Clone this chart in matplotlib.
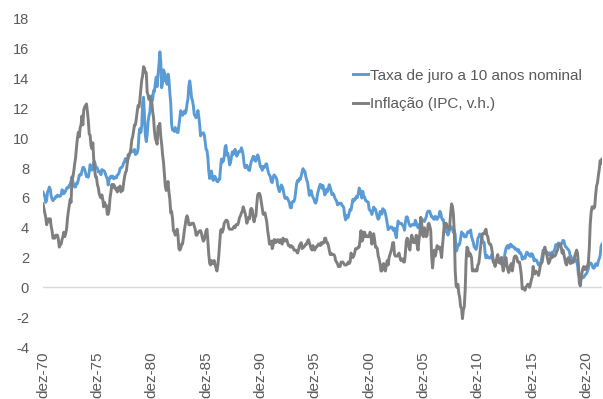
import numpy as np
import matplotlib.pyplot as plt

plt.rcParams['font.family'] = ['Liberation Sans', 'DejaVu Sans']

# monthly series, dez-1970 .. mai-2022
juro_10a = [
    6.39,
    6.24, 6.11, 5.70, 5.83, 6.39, 6.52, 6.73, 6.58, 6.14, 5.93, 5.81, 5.93,  # 1971
    5.95, 6.08, 6.07, 6.19, 6.13, 6.11, 6.11, 6.21, 6.55, 6.48, 6.28, 6.36,  # 1972
    6.46, 6.64, 6.71, 6.67, 6.85, 6.90, 7.13, 7.40, 7.09, 6.79, 6.73, 6.74,  # 1973
    6.99, 6.96, 7.21, 7.51, 7.58, 7.54, 7.81, 8.04, 8.04, 7.90, 7.68, 7.43,  # 1974
    7.50, 7.39, 7.73, 8.23, 8.06, 7.86, 8.06, 8.40, 8.43, 8.14, 8.05, 8.00,  # 1975
    7.74, 7.79, 7.73, 7.56, 7.90, 7.86, 7.83, 7.77, 7.59, 7.41, 7.29, 6.87,  # 1976
    7.21, 7.39, 7.46, 7.37, 7.46, 7.28, 7.33, 7.40, 7.34, 7.52, 7.58, 7.69,  # 1977
    7.96, 8.03, 8.04, 8.15, 8.35, 8.46, 8.64, 8.41, 8.42, 8.64, 8.81, 9.01,  # 1978
    9.10, 9.10, 9.12, 9.18, 9.25, 8.91, 8.95, 9.03, 9.33, 10.30, 10.65, 10.39,  # 1979
    10.80, 12.41, 12.75, 11.47, 10.18, 9.78, 10.25, 11.10, 11.51, 11.75, 12.68, 12.84,  # 1980
    12.57, 13.19, 13.12, 13.68, 14.10, 13.47, 14.28, 14.94, 15.80, 15.15, 13.39, 13.72,  # 1981
    14.59, 14.43, 13.86, 13.87, 13.62, 14.30, 13.95, 13.06, 12.34, 10.91, 10.55, 10.54,  # 1982
    10.46, 10.72, 10.51, 10.40, 10.38, 10.85, 11.38, 11.85, 11.65, 11.54, 11.69, 11.83,  # 1983
    11.67, 11.84, 12.32, 12.63, 13.50, 13.85, 13.36, 12.72, 12.52, 12.16, 11.57, 11.50,  # 1984
    11.38, 11.51, 11.86, 11.43, 10.85, 10.16, 10.31, 10.33, 10.37, 10.24, 9.78, 9.26,  # 1985
    9.19, 8.70, 7.78, 7.30, 7.71, 7.80, 7.30, 7.17, 7.45, 7.43, 7.25, 7.11,  # 1986
    7.08, 7.25, 7.25, 8.02, 8.61, 8.40, 8.45, 8.76, 9.42, 9.52, 8.86, 8.99,  # 1987
    8.67, 8.21, 8.37, 8.72, 9.09, 8.92, 9.06, 9.26, 8.98, 8.80, 8.96, 9.11,  # 1988
    9.09, 9.17, 9.36, 9.18, 8.86, 8.28, 8.02, 8.11, 8.19, 8.01, 7.87, 7.84,  # 1989
    8.21, 8.47, 8.59, 8.79, 8.76, 8.48, 8.47, 8.75, 8.89, 8.72, 8.39, 8.08,  # 1990
    8.09, 7.85, 8.11, 8.04, 8.07, 8.28, 8.27, 7.90, 7.65, 7.53, 7.42, 7.09,  # 1991
    7.03, 7.34, 7.54, 7.48, 7.39, 7.26, 6.84, 6.59, 6.42, 6.59, 6.87, 6.77,  # 1992
    6.60, 6.26, 5.98, 5.97, 6.04, 5.96, 5.81, 5.68, 5.36, 5.33, 5.72, 5.77,  # 1993
    5.75, 5.97, 6.48, 6.97, 7.18, 7.10, 7.30, 7.24, 7.46, 7.74, 7.96, 7.81,  # 1994
    7.78, 7.47, 7.20, 7.06, 6.63, 6.17, 6.28, 6.49, 6.20, 6.04, 5.93, 5.71,  # 1995
    5.65, 5.81, 6.27, 6.51, 6.74, 6.91, 6.87, 6.64, 6.83, 6.53, 6.20, 6.30,  # 1996
    6.58, 6.42, 6.69, 6.89, 6.71, 6.49, 6.22, 6.30, 6.21, 6.03, 5.88, 5.81,  # 1997
    5.54, 5.57, 5.65, 5.64, 5.65, 5.50, 5.46, 5.34, 4.81, 4.53, 4.83, 4.65,  # 1998
    4.72, 5.00, 5.23, 5.18, 5.54, 5.90, 5.79, 5.94, 5.92, 6.11, 6.03, 6.28,  # 1999
    6.66, 6.52, 6.26, 5.99, 6.44, 6.10, 6.05, 5.83, 5.80, 5.74, 5.72, 5.24,  # 2000
    5.16, 5.10, 4.89, 5.14, 5.39, 5.28, 5.24, 4.97, 4.73, 4.57, 4.65, 5.09,  # 2001
    5.04, 4.91, 5.28, 5.21, 5.16, 4.93, 4.65, 4.26, 3.87, 3.94, 4.05, 4.03,  # 2002
    4.05, 3.90, 3.81, 3.96, 3.57, 3.33, 3.98, 4.45, 4.27, 4.29, 4.30, 4.27,  # 2003
    4.15, 4.08, 3.83, 4.35, 4.72, 4.73, 4.50, 4.28, 4.13, 4.10, 4.19, 4.23,  # 2004
    4.22, 4.17, 4.50, 4.34, 4.14, 4.00, 4.18, 4.26, 4.20, 4.46, 4.54, 4.47,  # 2005
    4.42, 4.57, 4.72, 4.99, 5.11, 5.11, 5.09, 4.88, 4.72, 4.73, 4.60, 4.56,  # 2006
    4.76, 4.72, 4.56, 4.69, 4.75, 5.10, 5.00, 4.67, 4.52, 4.53, 4.15, 4.10,  # 2007
    3.74, 3.74, 3.51, 3.68, 3.88, 4.10, 4.01, 3.89, 3.69, 3.81, 3.53, 2.42,  # 2008
    2.52, 2.87, 2.82, 2.93, 3.29, 3.72, 3.56, 3.59, 3.40, 3.39, 3.40, 3.59,  # 2009
    3.73, 3.69, 3.73, 3.85, 3.42, 3.20, 3.01, 2.70, 2.65, 2.54, 2.76, 3.29,  # 2010
    3.39, 3.58, 3.41, 3.46, 3.17, 3.00, 3.00, 2.30, 1.98, 2.15, 2.01, 1.98,  # 2011
    1.97, 1.97, 2.17, 2.05, 1.80, 1.62, 1.53, 1.68, 1.72, 1.75, 1.65, 1.72,  # 2012
    1.91, 1.98, 1.96, 1.76, 1.93, 2.30, 2.58, 2.74, 2.81, 2.62, 2.72, 2.90,  # 2013
    2.86, 2.71, 2.72, 2.71, 2.56, 2.60, 2.54, 2.42, 2.53, 2.30, 2.33, 2.21,  # 2014
    1.88, 1.98, 2.04, 1.94, 2.20, 2.36, 2.32, 2.17, 2.17, 2.07, 2.26, 2.24,  # 2015
    2.09, 1.78, 1.89, 1.81, 1.81, 1.64, 1.50, 1.56, 1.63, 1.76, 2.14, 2.49,  # 2016
    2.43, 2.42, 2.48, 2.30, 2.30, 2.19, 2.32, 2.21, 2.20, 2.36, 2.35, 2.40,  # 2017
    2.58, 2.86, 2.84, 2.87, 2.98, 2.91, 2.89, 2.89, 3.00, 3.15, 3.12, 2.83,  # 2018
    2.71, 2.68, 2.57, 2.53, 2.40, 2.07, 2.06, 1.63, 1.70, 1.71, 1.81, 1.86,  # 2019
    1.76, 1.50, 0.87, 0.66, 0.67, 0.73, 0.62, 0.65, 0.68, 0.79, 0.87, 0.93,  # 2020
    1.08, 1.26, 1.61, 1.64, 1.62, 1.52, 1.32, 1.28, 1.37, 1.58, 1.56, 1.47,  # 2021
    1.76, 1.93, 2.13, 2.75, 2.90,  # 2022
]

inflacao = [
    5.6,
    5.3, 5.0, 4.7, 4.2, 4.4, 4.6, 4.4, 4.6, 4.1, 3.8, 3.3, 3.3,  # 1971
    3.3, 3.5, 3.5, 3.5, 3.2, 2.7, 2.9, 2.9, 3.2, 3.4, 3.7, 3.4,  # 1972
    3.6, 3.9, 4.6, 5.1, 5.5, 5.9, 5.7, 7.4, 7.4, 7.8, 8.3, 8.7,  # 1973
    9.4, 10.0, 10.4, 10.1, 10.7, 10.9, 11.5, 10.9, 11.9, 12.1, 12.2, 12.3,  # 1974
    11.8, 11.2, 10.3, 10.2, 9.5, 9.3, 9.7, 8.6, 7.9, 7.4, 7.4, 6.9,  # 1975
    6.7, 6.3, 6.1, 6.0, 6.2, 5.9, 5.4, 5.7, 5.5, 5.5, 4.9, 4.9,  # 1976
    5.2, 6.0, 6.4, 6.9, 6.7, 6.9, 6.8, 6.6, 6.6, 6.4, 6.7, 6.7,  # 1977
    6.8, 6.4, 6.6, 6.5, 7.0, 7.4, 7.7, 7.8, 8.3, 8.9, 8.9, 9.0,  # 1978
    9.3, 9.9, 10.1, 10.5, 10.9, 10.9, 11.3, 11.8, 12.2, 12.1, 12.6, 13.3,  # 1979
    13.9, 14.2, 14.8, 14.7, 14.4, 14.4, 13.1, 12.9, 12.6, 12.8, 12.6, 12.5,  # 1980
    11.8, 11.4, 10.5, 10.0, 9.8, 9.6, 10.8, 10.8, 11.0, 10.1, 9.6, 8.9,  # 1981
    8.4, 7.6, 6.8, 6.5, 6.7, 7.1, 6.4, 5.9, 5.0, 5.1, 4.6, 3.8,  # 1982
    3.7, 3.5, 3.6, 3.9, 3.5, 2.6, 2.5, 2.6, 2.9, 2.9, 3.3, 3.8,  # 1983
    4.2, 4.6, 4.8, 4.6, 4.2, 4.2, 4.2, 4.3, 4.3, 4.3, 4.1, 3.9,  # 1984
    3.5, 3.5, 3.7, 3.7, 3.8, 3.8, 3.6, 3.3, 3.1, 3.2, 3.5, 3.8,  # 1985
    3.9, 3.1, 2.2, 1.6, 1.5, 1.8, 1.6, 1.6, 1.8, 1.5, 1.3, 1.1,  # 1986
    1.5, 2.1, 3.0, 3.8, 3.9, 3.7, 3.9, 4.3, 4.4, 4.5, 4.5, 4.4,  # 1987
    4.0, 3.9, 3.9, 3.9, 3.9, 4.0, 4.1, 4.0, 4.2, 4.2, 4.2, 4.4,  # 1988
    4.7, 4.8, 5.0, 5.1, 5.4, 5.2, 5.0, 4.7, 4.3, 4.5, 4.7, 4.6,  # 1989
    5.2, 5.3, 5.2, 4.7, 4.4, 4.7, 4.8, 5.6, 6.2, 6.3, 6.3, 6.1,  # 1990
    5.7, 5.3, 4.9, 4.9, 5.0, 4.7, 4.4, 3.8, 3.4, 2.9, 3.0, 3.1,  # 1991
    2.6, 2.8, 3.2, 3.2, 3.0, 3.1, 3.2, 3.1, 3.0, 3.2, 3.0, 2.9,  # 1992
    3.3, 3.2, 3.1, 3.2, 3.2, 3.0, 2.8, 2.8, 2.7, 2.8, 2.7, 2.7,  # 1993
    2.5, 2.5, 2.5, 2.4, 2.3, 2.5, 2.8, 2.9, 3.0, 2.6, 2.7, 2.7,  # 1994
    2.8, 2.9, 2.9, 3.1, 3.2, 3.0, 2.8, 2.6, 2.5, 2.8, 2.6, 2.5,  # 1995
    2.7, 2.7, 2.8, 2.9, 2.9, 2.8, 3.0, 2.9, 3.0, 3.0, 3.3, 3.3,  # 1996
    3.0, 3.0, 2.8, 2.5, 2.2, 2.3, 2.2, 2.2, 2.2, 2.1, 1.8, 1.7,  # 1997
    1.6, 1.4, 1.4, 1.4, 1.7, 1.7, 1.7, 1.6, 1.5, 1.5, 1.5, 1.6,  # 1998
    1.7, 1.6, 1.7, 2.3, 2.1, 2.0, 2.1, 2.3, 2.6, 2.6, 2.6, 2.7,  # 1999
    2.7, 3.2, 3.8, 3.1, 3.2, 3.7, 3.7, 3.4, 3.5, 3.4, 3.4, 3.4,  # 2000
    3.7, 3.5, 2.9, 3.3, 3.6, 3.2, 2.7, 2.7, 2.6, 2.1, 1.9, 1.6,  # 2001
    1.1, 1.1, 1.5, 1.6, 1.2, 1.1, 1.5, 1.8, 1.5, 2.0, 2.2, 2.4,  # 2002
    2.6, 3.0, 3.0, 2.2, 2.1, 2.1, 2.1, 2.2, 2.3, 2.0, 1.8, 1.9,  # 2003
    1.9, 1.7, 1.7, 2.3, 3.1, 3.3, 3.0, 2.7, 2.5, 3.2, 3.5, 3.3,  # 2004
    3.0, 3.0, 3.1, 3.5, 2.8, 2.5, 3.2, 3.6, 4.7, 4.3, 3.5, 3.4,  # 2005
    4.0, 3.6, 3.4, 3.5, 4.2, 4.3, 4.1, 3.8, 2.1, 1.3, 2.0, 2.5,  # 2006
    2.1, 2.4, 2.8, 2.6, 2.7, 2.7, 2.4, 2.0, 2.8, 3.5, 4.3, 4.1,  # 2007
    4.3, 4.0, 4.0, 3.9, 4.2, 5.0, 5.6, 5.4, 4.9, 3.7, 1.1, 0.1,  # 2008
    0.0, 0.2, -0.4, -0.7, -1.3, -1.4, -2.1, -1.5, -1.3, -0.2, 1.8, 2.7,  # 2009
    2.6, 2.1, 2.3, 2.2, 2.0, 1.1, 1.2, 1.1, 1.1, 1.2, 1.1, 1.5,  # 2010
    1.6, 2.1, 2.7, 3.2, 3.6, 3.6, 3.6, 3.8, 3.9, 3.5, 3.4, 3.0,  # 2011
    2.9, 2.9, 2.7, 2.3, 1.7, 1.7, 1.4, 1.7, 2.0, 2.2, 1.8, 1.7,  # 2012
    1.6, 2.0, 1.5, 1.1, 1.4, 1.8, 2.0, 1.5, 1.2, 1.0, 1.2, 1.5,  # 2013
    1.6, 1.1, 1.5, 2.0, 2.1, 2.1, 2.0, 1.7, 1.7, 1.7, 1.3, 0.8,  # 2014
    -0.1, 0.0, -0.1, -0.2, 0.0, 0.1, 0.2, 0.2, 0.0, 0.2, 0.5, 0.7,  # 2015
    1.4, 1.0, 0.9, 1.1, 1.0, 1.0, 0.8, 1.1, 1.5, 1.6, 1.7, 2.1,  # 2016
    2.5, 2.7, 2.4, 2.2, 1.9, 1.6, 1.7, 1.9, 2.2, 2.0, 2.2, 2.1,  # 2017
    2.1, 2.2, 2.4, 2.5, 2.8, 2.9, 2.9, 2.7, 2.3, 2.5, 2.2, 1.9,  # 2018
    1.6, 1.5, 1.9, 2.0, 1.8, 1.6, 1.8, 1.7, 1.7, 1.8, 2.1, 2.3,  # 2019
    2.5, 2.3, 1.5, 0.3, 0.1, 0.6, 1.0, 1.3, 1.4, 1.2, 1.2, 1.4,  # 2020
    1.4, 1.7, 2.6, 4.2, 5.0, 5.4, 5.4, 5.3, 5.4, 6.2, 6.8, 7.0,  # 2021
    7.5, 7.9, 8.5, 8.3, 8.6,  # 2022
]

rotulos_x = ['dez-70', 'dez-75', 'dez-80', 'dez-85', 'dez-90', 'dez-95',
             'dez-00', 'dez-05', 'dez-10', 'dez-15', 'dez-20']
y_ticks = list(range(-4, 19, 2))

azul = '#5B9BD5'
cinza = '#7F7F7F'
cor_texto = '#595959'

meses = np.arange(len(juro_10a))

fig = plt.figure(figsize=(6.03, 3.99), dpi=100)
ax = fig.add_axes([0.0713, 0.1303, 0.927, 0.8221])

ax.plot(meses, juro_10a, color=azul, lw=2.1, label='Taxa de juro a 10 anos nominal')
ax.plot(meses, inflacao, color=cinza, lw=2.1, label='Inflação (IPC, v.h.)')
ax.axhline(0, color='#D9D9D9', lw=1.0, zorder=0)

ax.set_xlim(0, len(meses) - 1)
ax.set_ylim(-4, 18)
ax.set_yticks(y_ticks)
ax.set_yticklabels([str(v) for v in y_ticks])
ax.set_xticks(np.arange(len(rotulos_x)) * 60)
ax.set_xticklabels(rotulos_x, rotation=90, va='top', ha='center')

for s in ax.spines.values():
    s.set_visible(False)
ax.tick_params(axis='both', length=0, colors=cor_texto)
ax.tick_params(axis='y', pad=10, labelsize=10.5)
ax.tick_params(axis='x', pad=3, labelsize=11)

leg = ax.legend(loc='upper left', bbox_to_anchor=(0.555, 0.849), frameon=False,
                fontsize=11, handlelength=0.95, handletextpad=0.15,
                labelspacing=0.95, borderpad=0, borderaxespad=0)
for t in leg.get_texts():
    t.set_color(cor_texto)

fig.savefig('out.png', dpi=100)
